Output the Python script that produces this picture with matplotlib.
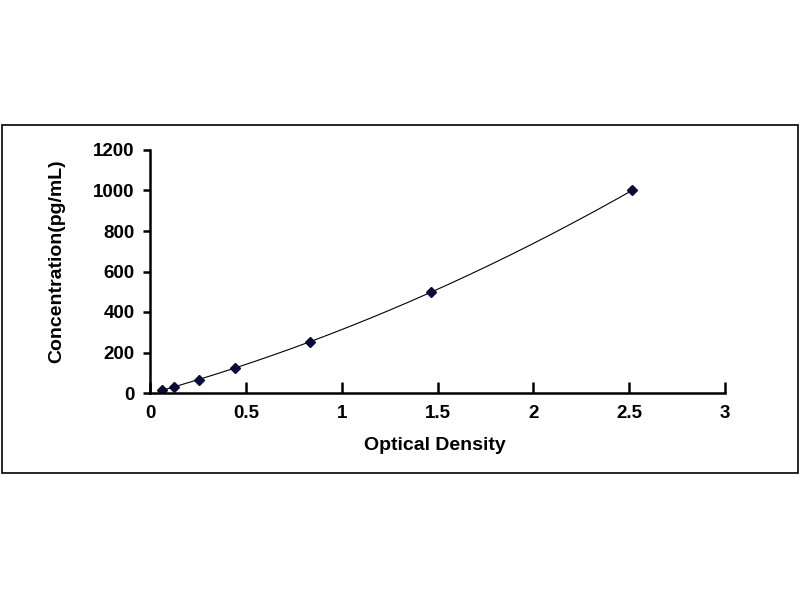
import numpy as np
import matplotlib.pyplot as plt
from matplotlib.patches import Rectangle

# standard curve points
od = [0.061, 0.125, 0.256, 0.443, 0.835, 1.464, 2.516]
conc = [15.6, 31.2, 62.5, 125, 250, 500, 1000]

x_ticks = [0, 0.5, 1, 1.5, 2, 2.5, 3]
x_tick_labels = ["0", "0.5", "1", "1.5", "2", "2.5", "3"]
y_ticks = [0, 200, 400, 600, 800, 1000, 1200]

plt.rcParams['font.family'] = ['Liberation Sans', 'DejaVu Sans']
plt.rcParams['font.weight'] = 'bold'

fig = plt.figure(figsize=(8, 6), dpi=100)
fig.patches.append(Rectangle((0.0025, 0.2117), 0.995, 0.58, transform=fig.transFigure,
                             fill=False, edgecolor='black', linewidth=1.2))

ax = fig.add_axes([0.1875, 0.345, 0.71875, 0.405])

# smooth fitted curve through the standards
coef = np.polyfit(od, conc, 2)
xs = np.linspace(od[0], od[-1], 200)
ax.plot(xs, np.polyval(coef, xs), color='black', linewidth=0.8)
ax.plot(od, conc, linestyle='none', marker='D', markersize=5, color='#0a0a3c')

ax.set_xlim(0, 3)
ax.set_ylim(0, 1200)
ax.set_xticks(x_ticks)
ax.set_xticklabels(x_tick_labels)
ax.set_yticks(y_ticks)
for s in ['top', 'right']:
    ax.spines[s].set_visible(False)
for s in ['left', 'bottom']:
    ax.spines[s].set_linewidth(1.8)
ax.tick_params(axis='x', direction='in', length=8, width=1.8, labelsize=13.5, pad=9)
ax.tick_params(axis='y', direction='out', length=5, width=1.8, labelsize=13.5, pad=6)
for lab in ax.get_xticklabels() + ax.get_yticklabels():
    lab.set_fontweight('bold')

ax.set_xlabel('Optical Density', fontsize=14, fontweight='bold', va='center')
ax.set_ylabel('Concentration(pg/mL)', fontsize=14, fontweight='bold', va='center')
ax.xaxis.set_label_coords(0.496, -0.214)
ax.yaxis.set_label_coords(-0.162, 0.543)

fig.savefig('out.png', dpi=100)
